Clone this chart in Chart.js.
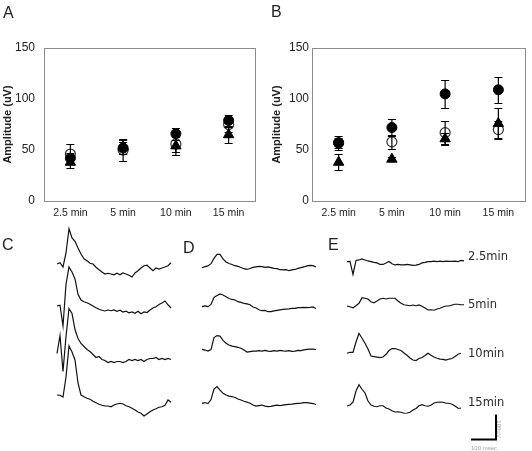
<!DOCTYPE html>
<html>
<head>
<meta charset="utf-8">
<script src="https://cdn.jsdelivr.net/npm/chart.js@4.4.1/dist/chart.umd.min.js"></script>
<style>
  body { margin: 0; background: #fff; }
  #wrap { position: relative; width: 532px; height: 451px; overflow: hidden; font-family: 'Liberation Sans', Arial, sans-serif; }
  canvas { position: absolute; }
  .panel { position: absolute; font-size: 16px; line-height: 16px; color: #222; }
  .row { position: absolute; left: 468px; font-family: 'DejaVu Sans', sans-serif; font-size: 11.5px; line-height: 11px; color: #2a2a2a; white-space: nowrap; }
  .tiny { position: absolute; font-size: 6px; line-height: 6px; color: #a0a0a0; white-space: nowrap; }
</style>
</head>
<body>
<div id="wrap">
  <canvas id="chartA" width="262" height="230" style="left:0;top:0"></canvas>
  <canvas id="chartB" width="270" height="230" style="left:262px;top:0"></canvas>
  <canvas id="traces" width="532" height="231" style="left:0;top:220px"></canvas>

  <div class="panel" style="left:3px;top:5px">A</div>
  <div class="panel" style="left:271px;top:4px">B</div>
  <div class="panel" style="left:2px;top:237px">C</div>
  <div class="panel" style="left:183px;top:240px">D</div>
  <div class="panel" style="left:328px;top:237px">E</div>

  <div class="row" id="row0" style="top:251px"></div>
  <div class="row" id="row1" style="top:299px"></div>
  <div class="row" id="row2" style="top:348px"></div>
  <div class="row" id="row3" style="top:397px"></div>

  <div class="tiny" id="barMs" style="left:471px;top:445px"></div>
  <div class="tiny" id="barUv" style="left:490px;top:426px;transform:rotate(90deg)"></div>
</div>

<script>
// amplitude plots (A, B) ---------------------------------
var timePoints = ["2.5 min", "5 min", "10 min", "15 min"];
var ampTicks = [0, 50, 100, 150];

var aFilled = [42, 52, 66, 79];
var aFilledErr = [5, 6, 6, 5];
var aOpen = [46, 50, 56, 75];
var aOpenErr = [10, 11, 8, 7];
var aTri = [38, 53, 54, 65];
var aTriErr = [6, 7, 9, 8];

var bFilled = [57, 72, 105, 109];
var bFilledErr = [7, 8.5, 14, 13];
var bOpen = [57, 58, 67, 70];
var bOpenErr = [5, 7, 11, 8];
var bTri = [38, 41, 61, 76];
var bTriErr = [8, 2, 6, 15];

// recordings (uV, one sample every 12 ms) -----------------
var rowLabels = ["2.5min", "5min", "10min", "15min"];
var sampleMs = 12;
var scaleBarMs = 100;
var scaleBarUv = 100;

var c1 = [0, 5, -12, 44, 141, 104, 91, 64, 40, 21, 13, 3, 0, -13, -23, -32, -40, -37, -40, -43, -37, -43, -36, -40, -45, -52, -36, -27, -16, -7, -5, -16, -27, -16, -20, -16, -12, -7, 5];
var c2 = [0, 3, -80, 87, 156, 136, 108, 47, 24, 17, 13, 7, 0, -7, -13, -17, -20, -16, -19, -16, -21, -17, -24, -21, -27, -24, -29, -21, -31, -24, -26, -16, -8, -3, 6, 12, 20, 5, -8];
var c3 = [0, 72, -72, 68, 180, 160, 96, 60, 40, 28, 16, 8, -4, -16, -12, -24, -28, -36, -32, -36, -32, -32, -36, -32, -24, -28, -24, -28, -24, -32, -24, -20, -20, -16, -24, -20, -24, -20, -24];
var c4 = [4, 3, -4, 76, 200, 176, 144, 52, 4, -3, -9, -13, -21, -27, -33, -37, -40, -40, -43, -36, -32, -29, -32, -39, -43, -49, -56, -64, -69, -80, -72, -63, -56, -51, -45, -43, -37, -16, -25];

var d1 = [0, 4, 7, 16, 37, 53, 53, 35, 23, 17, 13, 8, 5, 1, -4, -7, -3, 1, 3, 5, 4, 1, 3, 0, -3, -4, -8, -9, -8, -12, -9, -7, -3, 0, 3, 7, 9, 8, 3];
var d2 = [0, 3, 0, 9, 37, 45, 51, 47, 40, 33, 29, 27, 20, 17, 13, 11, 8, -1, -5, -12, -16, -15, -20, -20, -17, -15, -13, -11, -10, -9, -7, -7, -4, -4, -3, -4, -3, -1, -7];
var d3 = [0, -3, -7, -1, 47, 55, 53, 36, 24, 17, 13, 11, 8, 4, -3, -11, -9, -7, -7, -5, -7, -4, -7, -8, -5, -7, -4, -6, -7, -5, -8, -7, -4, -5, -2, 0, 1, 1, -1];
var d4 = [0, 3, -1, 15, 57, 67, 53, 40, 33, 29, 27, 23, 17, 13, 8, 5, 0, -7, -11, -9, -7, -11, -13, -12, -9, -7, -9, -7, -5, -4, -3, -1, 0, 1, 3, 3, 1, -1, -5];

var e1 = [0, 1, -51, 5, 7, 11, 7, 3, 0, -3, -5, -11, -11, -5, 1, -8, -13, -11, -13, -13, -11, -13, -15, -14, -11, -5, -3, 0, 0, 2, 0, 2, 0, 2, 1, 1, 2, 0, 5, 3];
var e2 = [0, -3, -7, 1, 11, 33, 31, 28, 17, 13, 20, 28, 31, 28, 31, 31, 31, 20, 11, 5, 3, 1, 4, 1, 4, -1, -8, -16, -15, -17, -12, -9, -4, 0, 0, 4, 7, 7, 5, 5];
var e3 = [0, 4, 4, 45, 80, 60, 40, 17, -11, -13, -15, -17, -15, -4, 11, 19, 19, 15, 11, 1, -8, -19, -27, -29, -21, -17, -9, 0, -8, -15, -20, -23, -24, -27, -23, -21, -13, -4, 0];
var e4 = [0, 4, 15, 60, 85, 67, 52, 20, 4, -1, -3, 1, 1, -8, -12, -19, -24, -23, -25, -29, -28, -25, -16, -10, 1, 5, 1, -1, 3, 12, 15, 16, 15, 11, 11, 7, 0, -9, -9];

var FONT = "'Liberation Sans', Arial, sans-serif";
var INK = '#222';

var errorBars = {
  id: 'errorBars',
  afterDatasetsDraw: function (chart) {
    var ctx = chart.ctx;
    var yScale = chart.scales.y;
    ctx.save();
    ctx.strokeStyle = '#000';
    ctx.lineWidth = 1.2;
    chart.data.datasets.forEach(function (ds, i) {
      var meta = chart.getDatasetMeta(i);
      meta.data.forEach(function (pt, j) {
        var hi = Math.round(yScale.getPixelForValue(ds.data[j] + ds.errors[j])) + 0.5;
        var lo = Math.round(yScale.getPixelForValue(ds.data[j] - ds.errors[j])) + 0.5;
        ctx.beginPath();
        ctx.moveTo(pt.x, hi); ctx.lineTo(pt.x, lo);
        ctx.moveTo(pt.x - 4, hi); ctx.lineTo(pt.x + 4, hi);
        ctx.moveTo(pt.x - 4, lo); ctx.lineTo(pt.x + 4, lo);
        ctx.stroke();
      });
    });
    ctx.restore();
  }
};

var plotFrame = {
  id: 'plotFrame',
  beforeDatasetsDraw: function (chart) {
    var a = chart.chartArea;
    var ctx = chart.ctx;
    ctx.save();
    ctx.strokeStyle = '#8c8c8c';
    ctx.lineWidth = 1;
    ctx.strokeRect(Math.round(a.left) + 0.5, Math.round(a.top) + 0.5, Math.round(a.right - a.left), Math.round(a.bottom - a.top));
    ctx.restore();
  }
};

function amplitudeChart(id, filled, filledErr, open, openErr, tri, triErr, box) {
  return new Chart(document.getElementById(id), {
    type: 'line',
    data: {
      labels: timePoints,
      datasets: [
        { data: tri, errors: triErr, showLine: false, pointStyle: 'triangle', pointRadius: 6,
          backgroundColor: '#000', borderColor: '#000', pointBorderWidth: 1 },
        { data: filled, errors: filledErr, showLine: false, pointStyle: 'circle', pointRadius: 5,
          backgroundColor: '#000', borderColor: '#000', pointBorderWidth: 1 },
        { data: open, errors: openErr, showLine: false, pointStyle: 'circle', pointRadius: 5,
          backgroundColor: 'rgba(255,255,255,0)', borderColor: '#333', pointBorderWidth: 1.2 }
      ]
    },
    options: {
      responsive: false,
      animation: false,
      devicePixelRatio: 1,
      layout: { padding: { top: box.top, right: box.right, left: 0, bottom: 0 } },
      plugins: { legend: { display: false }, tooltip: { enabled: false } },
      scales: {
        x: {
          type: 'category',
          offset: true,
          grid: { display: false, drawTicks: false },
          border: { display: false },
          ticks: { color: INK, padding: 6, font: { family: FONT, size: 10.5 } },
          afterFit: function (s) { s.height = box.xh; }
        },
        y: {
          min: 0,
          max: 150,
          grid: { display: false, drawTicks: false },
          border: { display: false },
          afterBuildTicks: function (s) { s.ticks = ampTicks.map(function (v) { return { value: v }; }); },
          ticks: { color: INK, padding: box.tickPad, font: { family: FONT, size: 12 } },
          title: { display: true, text: 'Amplitude (uV)', color: INK, padding: { top: box.titlePad, bottom: 0 },
                   font: { family: FONT, size: 11, weight: 'bold' } },
          afterFit: function (s) { s.width = box.yw; }
        }
      }
    },
    plugins: [plotFrame, errorBars]
  });
}

amplitudeChart('chartA', aFilled, aFilledErr, aOpen, aOpenErr, aTri, aTriErr,
  { top: 48, right: 6, xh: 29, yw: 44, tickPad: 9, titlePad: 1.5 });
amplitudeChart('chartB', bFilled, bFilledErr, bOpen, bOpenErr, bTri, bTriErr,
  { top: 48, right: 5, xh: 29, yw: 50, tickPad: 3, titlePad: 8.5 });

// TRACES -------------------------------------------------
// the traces canvas spans page y 220..451, 4 ms and 4 uV per pixel
var MS_PER_PX = 4, UV_PER_PX = 4;
var TR_TOP = 220, TR_H = 231, TR_W = 532;

function place(values, leftPx, baselinePx) {
  return values.map(function (v, k) {
    return { x: leftPx * MS_PER_PX + k * sampleMs, y: (TR_TOP + TR_H - baselinePx) * UV_PER_PX + v };
  });
}

var traceLayout = [
  [c1, 57, 264], [c2, 57, 306], [c3, 57, 353.5], [c4, 57, 396],
  [d1, 202, 267.7], [d2, 202, 306.7], [d3, 202, 349.3], [d4, 202, 403.3],
  [e1, 347, 261.7], [e2, 347, 306], [e3, 347, 353.3], [e4, 347, 406]
];

var traceSets = traceLayout.map(function (t) {
  return { data: place(t[0], t[1], t[2]), showLine: true, borderColor: '#111', borderWidth: 1.2,
           pointRadius: 0, tension: 0 };
});

// scale bar, corner at page (496, 439.5)
var barX = 496 * MS_PER_PX, barY = (TR_TOP + TR_H - 439.5) * UV_PER_PX;
traceSets.push({
  data: [{ x: barX - scaleBarMs, y: barY }, { x: barX, y: barY }, { x: barX, y: barY + scaleBarUv }],
  showLine: true, borderColor: '#000', borderWidth: 2, pointRadius: 0, tension: 0
});

new Chart(document.getElementById('traces'), {
  type: 'scatter',
  data: { datasets: traceSets },
  options: {
    responsive: false,
    animation: false,
    devicePixelRatio: 1,
    layout: { padding: 0 },
    plugins: { legend: { display: false }, tooltip: { enabled: false } },
    scales: {
      x: { type: 'linear', display: false, min: 0, max: TR_W * MS_PER_PX },
      y: { type: 'linear', display: false, min: 0, max: TR_H * UV_PER_PX }
    }
  }
});

rowLabels.forEach(function (txt, i) {
  document.getElementById('row' + i).textContent = txt;
});
document.getElementById('barMs').textContent = scaleBarMs + ' msec';
document.getElementById('barUv').textContent = scaleBarUv + 'uV';
</script>
</body>
</html>
